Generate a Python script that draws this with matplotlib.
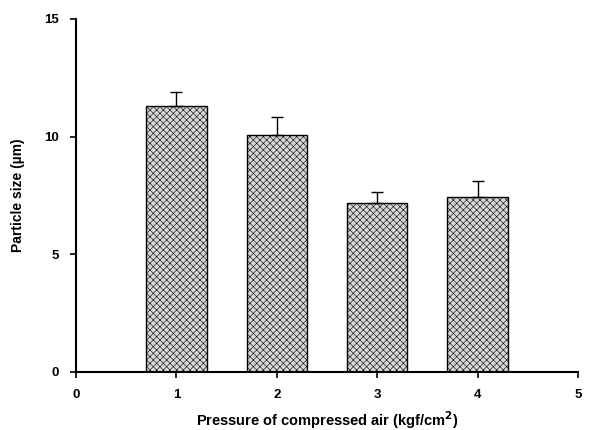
import matplotlib.pyplot as plt
import numpy as np

plt.rcParams['font.family'] = ['Liberation Sans', 'DejaVu Sans']
plt.rcParams['hatch.color'] = '#8c8c8c'
plt.rcParams['hatch.linewidth'] = 0.4

# data
pressure = [1, 2, 3, 4]
size_um = [11.3, 10.05, 7.2, 7.45]
err_up = [0.6, 0.8, 0.45, 0.65]

fig = plt.figure(figsize=(5.91, 4.30), dpi=100)
ax = fig.add_axes([0.1286, 0.1349, 0.8494, 0.821])

yerr = np.array([np.zeros(len(err_up)), err_up])
ax.bar(pressure, size_um, width=0.6, color='#d6d6d6', edgecolor='black',
       linewidth=1.0, hatch='xxxxx', zorder=2)
ax.errorbar(pressure, size_um, yerr=yerr, fmt='none', ecolor='black',
            elinewidth=1.0, capsize=4, capthick=1.0, zorder=3)

ax.set_xlim(0, 5)
ax.set_ylim(0, 15)
ax.set_xticks([0, 1, 2, 3, 4, 5])
ax.set_yticks([0, 5, 10, 15])
ax.spines['top'].set_visible(False)
ax.spines['right'].set_visible(False)
ax.spines['left'].set_linewidth(1.5)
ax.spines['bottom'].set_linewidth(1.5)
ax.tick_params(direction='out', length=4, width=1.2, labelsize=9.5, pad=8)
for lab in ax.get_xticklabels() + ax.get_yticklabels():
    lab.set_fontweight('bold')

ax.set_ylabel('Particle size (µm)', fontsize=10, fontweight='bold', labelpad=14)
ax.set_xlabel('Pressure of compressed air (kgf/cm$\\mathbf{^2}$)', fontsize=10.5,
              fontweight='bold', labelpad=6)

fig.savefig('out.png', dpi=100)
